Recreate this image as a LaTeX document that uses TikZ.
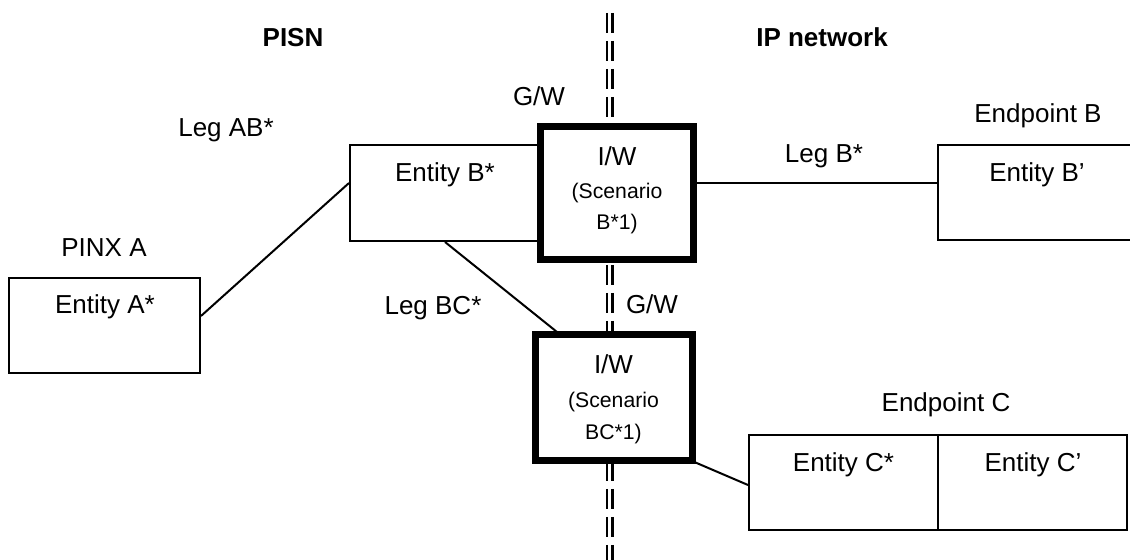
\documentclass[tikz,border=0pt]{standalone}
\usepackage{fontspec}
\setmainfont{Liberation Sans}
\usetikzlibrary{positioning}
\begin{document}
\begin{tikzpicture}[x=0.5pt,y=-0.5pt,
    box/.style={draw,line width=1pt,fill=white,inner sep=0pt},
    iwbox/.style={box,line width=3.5pt},
    lbl/.style={anchor=base,inner sep=0pt,font=\fontsize{13}{15}\selectfont},
    smalllbl/.style={lbl,font=\fontsize{10.6}{12}\selectfont},
    hdr/.style={lbl,font=\fontsize{13}{15}\selectfont\bfseries},
    leg/.style={line width=1pt},
    gwline/.style={line width=1.3pt,dash pattern=on 10pt off 4pt}]
    \clip (0,0) rectangle (1130,560);
    % Confine G/W
    \coordinate (gwtop) at (609.7,13);
    \coordinate (gwbot) at (609.7,565);
    \draw[gwline] ([xshift=-1.4pt]gwtop) -- ([xshift=-1.4pt]gwbot);
    \draw[gwline] ([xshift=1.4pt]gwtop) -- ([xshift=1.4pt]gwbot);
    % Riquadri
    \node[box,minimum width=95.5pt,minimum height=47.5pt] (ea) at (104.5,325.5) {};
    \node[box,minimum width=95pt,minimum height=48pt] (eb) at (445,193) {};
    \node[box,minimum width=99pt,minimum height=47.5pt] (epb) at (1037,192.5) {};
    \node[box,minimum width=94.5pt,minimum height=47.5pt] (ecs) at (843.5,482.5) {};
    \node[box,minimum width=94.5pt,minimum height=47.5pt] (ecp) at (1032.5,482.5) {};
    % Legs
    \draw[leg] ([yshift=4.75pt]ea.east) -- ([yshift=5pt]eb.west);
    \draw[leg] (eb.south) -- (557,332);
    \draw[leg] ([yshift=5.25pt]617,193.5) -- ([yshift=4.75pt]epb.west);
    \draw[leg] (650,443) -- ([yshift=-1.25pt]ecs.west);
    % I/W
    \node[iwbox,minimum width=76.5pt,minimum height=66.5pt] (iw1) at (616.5,193.5) {};
    \node[iwbox,minimum width=78.5pt,minimum height=63pt] (iw2) at (613.5,398) {};
    % Testi
    \node[hdr] (pisn) at (293,47) {PISN};
    \node[hdr] (ipnet) at (822,47) {IP network};
    \node[lbl] (gw1) at (539,106) {G/W};
    \node[lbl] (gw2) at (652,314) {G/W};
    \node[lbl] (pinxa) at (104,257) {PINX A};
    \node[lbl] (eatxt) at (105,314) {Entity A*};
    \node[lbl] (ebtxt) at (445,182) {Entity B*};
    \node[lbl] (epbtxt) at (1038,123) {Endpoint B};
    \node[lbl] (ebptxt) at (1037,182) {Entity B’};
    \node[lbl] (epctxt) at (946,412) {Endpoint C};
    \node[lbl] (ecstxt) at (843.5,472) {Entity C*};
    \node[lbl] (ecptxt) at (1033,472) {Entity C’};
    \node[lbl] (legab) at (226,137) {Leg AB*};
    \node[lbl] (legb) at (824,163) {Leg B*};
    \node[lbl] (legbc) at (433,315) {Leg BC*};
    \node[lbl] (iw1a) at (617,166) {I/W};
    \node[smalllbl] (iw1b) at (617,199) {(Scenario};
    \node[smalllbl] (iw1c) at (617,230) {B*1)};
    \node[lbl] (iw2a) at (613.5,374) {I/W};
    \node[smalllbl] (iw2b) at (613.5,408) {(Scenario};
    \node[smalllbl] (iw2c) at (613.5,440) {BC*1)};
\end{tikzpicture}
\end{document}
